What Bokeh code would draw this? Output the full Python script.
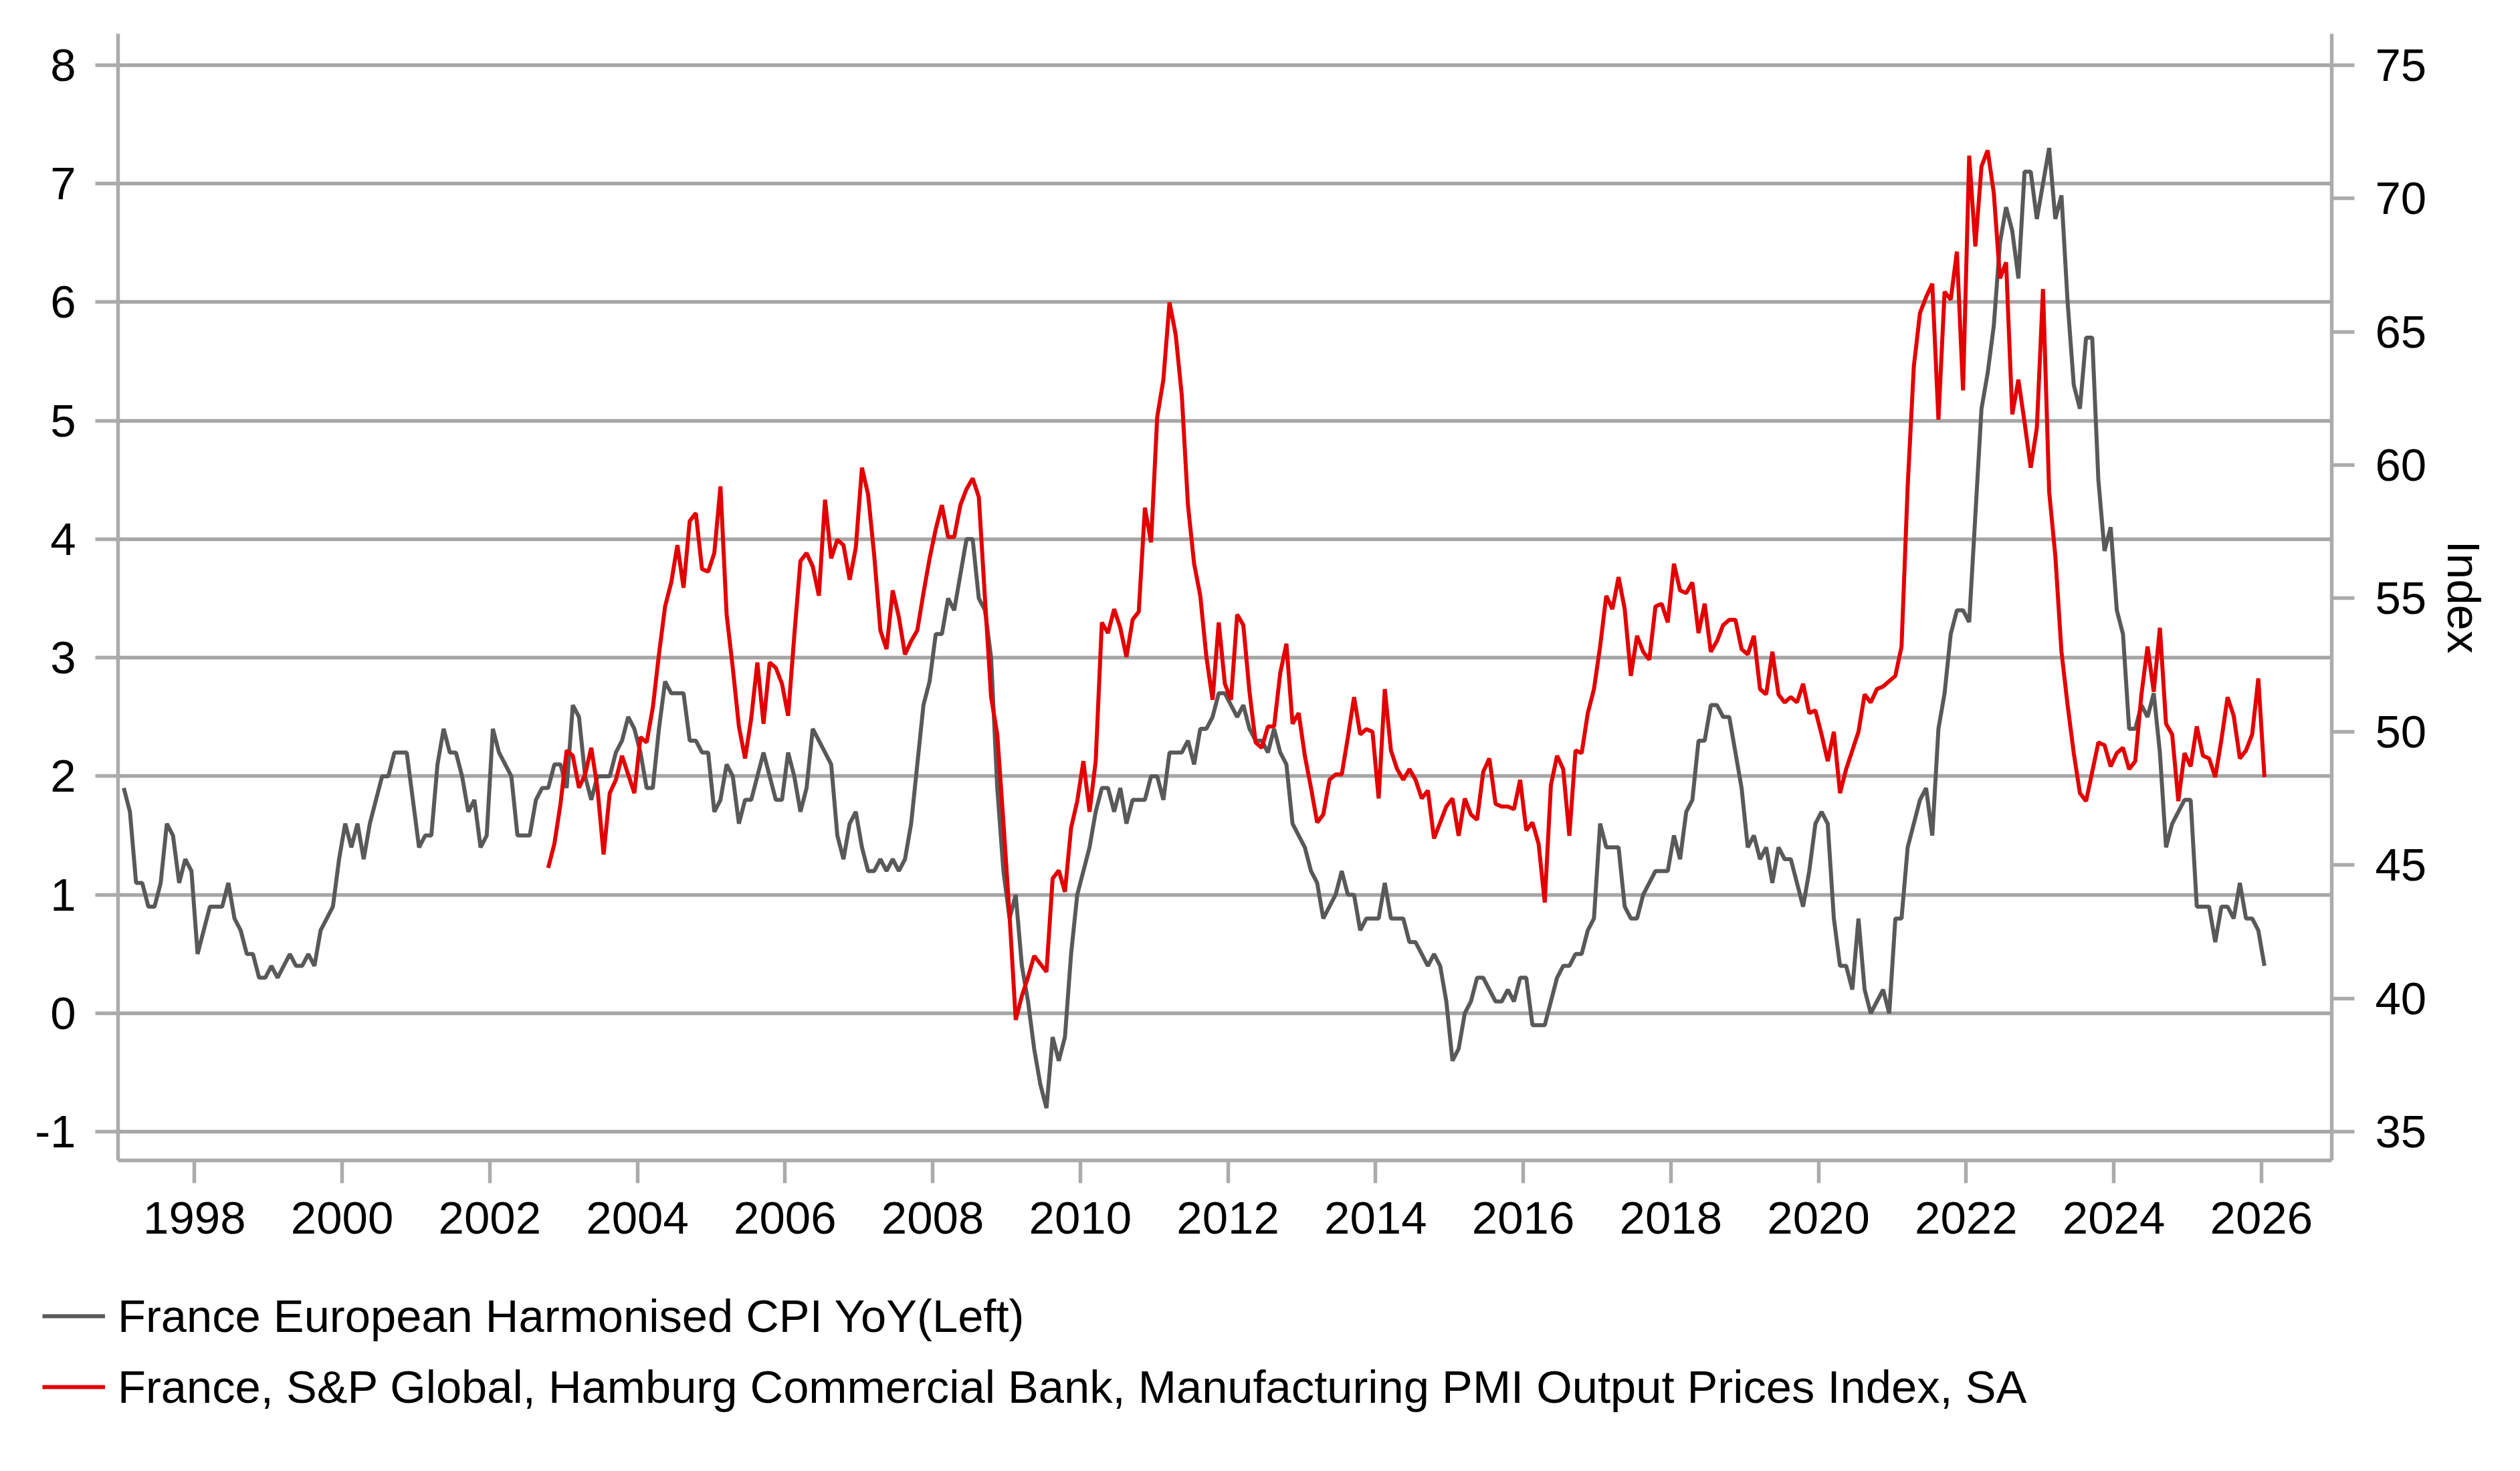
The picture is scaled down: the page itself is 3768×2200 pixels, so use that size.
from bokeh.plotting import figure
from bokeh.layouts import column
from bokeh.models import (Range1d, LinearAxis, FixedTicker, Legend, LegendItem,
                          NumeralTickFormatter, ColumnDataSource)
from bokeh.embed import file_html
from bokeh.resources import INLINE

# ---------------- data ----------------
# France European Harmonised CPI YoY (%), monthly, starting Jan 1997
cpi_start = (1997, 1)
cpi_yoy = [
    1.9, 1.7, 1.1, 1.1, 0.9, 0.9, 1.1, 1.6, 1.5, 1.1, 1.3, 1.2,      # 1997
    0.5, 0.7, 0.9, 0.9, 0.9, 1.1, 0.8, 0.7, 0.5, 0.5, 0.3, 0.3,      # 1998
    0.4, 0.3, 0.4, 0.5, 0.4, 0.4, 0.5, 0.4, 0.7, 0.8, 0.9, 1.3,      # 1999
    1.6, 1.4, 1.6, 1.3, 1.6, 1.8, 2.0, 2.0, 2.2, 2.2, 2.2, 1.8,      # 2000
    1.4, 1.5, 1.5, 2.1, 2.4, 2.2, 2.2, 2.0, 1.7, 1.8, 1.4, 1.5,      # 2001
    2.4, 2.2, 2.1, 2.0, 1.5, 1.5, 1.5, 1.8, 1.9, 1.9, 2.1, 2.1,      # 2002
    1.9, 2.6, 2.5, 2.0, 1.8, 2.0, 2.0, 2.0, 2.2, 2.3, 2.5, 2.4,      # 2003
    2.2, 1.9, 1.9, 2.4, 2.8, 2.7, 2.7, 2.7, 2.3, 2.3, 2.2, 2.2,      # 2004
    1.7, 1.8, 2.1, 2.0, 1.6, 1.8, 1.8, 2.0, 2.2, 2.0, 1.8, 1.8,      # 2005
    2.2, 2.0, 1.7, 1.9, 2.4, 2.3, 2.2, 2.1, 1.5, 1.3, 1.6, 1.7,      # 2006
    1.4, 1.2, 1.2, 1.3, 1.2, 1.3, 1.2, 1.3, 1.6, 2.1, 2.6, 2.8,      # 2007
    3.2, 3.2, 3.5, 3.4, 3.7, 4.0, 4.0, 3.5, 3.4, 3.0, 1.9, 1.2,      # 2008
    0.8, 1.0, 0.4, 0.1, -0.3, -0.6, -0.8, -0.2, -0.4, -0.2, 0.5, 1.0,  # 2009
    1.2, 1.4, 1.7, 1.9, 1.9, 1.7, 1.9, 1.6, 1.8, 1.8, 1.8, 2.0,      # 2010
    2.0, 1.8, 2.2, 2.2, 2.2, 2.3, 2.1, 2.4, 2.4, 2.5, 2.7, 2.7,      # 2011
    2.6, 2.5, 2.6, 2.4, 2.3, 2.3, 2.2, 2.4, 2.2, 2.1, 1.6, 1.5,      # 2012
    1.4, 1.2, 1.1, 0.8, 0.9, 1.0, 1.2, 1.0, 1.0, 0.7, 0.8, 0.8,      # 2013
    0.8, 1.1, 0.8, 0.8, 0.8, 0.6, 0.6, 0.5, 0.4, 0.5, 0.4, 0.1,      # 2014
    -0.4, -0.3, 0.0, 0.1, 0.3, 0.3, 0.2, 0.1, 0.1, 0.2, 0.1, 0.3,    # 2015
    0.3, -0.1, -0.1, -0.1, 0.1, 0.3, 0.4, 0.4, 0.5, 0.5, 0.7, 0.8,   # 2016
    1.6, 1.4, 1.4, 1.4, 0.9, 0.8, 0.8, 1.0, 1.1, 1.2, 1.2, 1.2,      # 2017
    1.5, 1.3, 1.7, 1.8, 2.3, 2.3, 2.6, 2.6, 2.5, 2.5, 2.2, 1.9,      # 2018
    1.4, 1.5, 1.3, 1.4, 1.1, 1.4, 1.3, 1.3, 1.1, 0.9, 1.2, 1.6,      # 2019
    1.7, 1.6, 0.8, 0.4, 0.4, 0.2, 0.8, 0.2, 0.0, 0.1, 0.2, 0.0,      # 2020
    0.8, 0.8, 1.4, 1.6, 1.8, 1.9, 1.5, 2.4, 2.7, 3.2, 3.4, 3.4,      # 2021
    3.3, 4.2, 5.1, 5.4, 5.8, 6.5, 6.8, 6.6, 6.2, 7.1, 7.1, 6.7,      # 2022
    7.0, 7.3, 6.7, 6.9, 6.0, 5.3, 5.1, 5.7, 5.7, 4.5, 3.9, 4.1,      # 2023
    3.4, 3.2, 2.4, 2.4, 2.6, 2.5, 2.7, 2.2, 1.4, 1.6, 1.7, 1.8,      # 2024
    1.8, 0.9, 0.9, 0.9, 0.6, 0.9, 0.9, 0.8, 1.1, 0.8, 0.8, 0.7,      # 2025
    0.4,                                                             # 2026
]

# France manufacturing PMI output prices index (SA), monthly, starting Oct 2002
pmi_start = (2002, 10)
pmi_output_prices = [
    44.9, 45.8, 47.3,                                                        # 2002
    49.3, 49.1, 47.9, 48.4, 49.4, 47.9, 45.4, 47.7, 48.2, 49.1, 48.4, 47.7,  # 2003
    49.8, 49.6, 50.9, 52.9, 54.7, 55.6, 57.0, 55.4, 57.9, 58.2, 56.1, 56.0,  # 2004
    56.7, 59.2, 54.4, 52.4, 50.2, 49.0, 50.5, 52.6, 50.3, 52.6, 52.4, 51.8,  # 2005
    50.6, 53.6, 56.4, 56.7, 56.2, 55.1, 58.7, 56.5, 57.2, 57.0, 55.7, 56.9,  # 2006
    59.9, 58.9, 56.6, 53.8, 53.1, 55.3, 54.3, 52.9, 53.4, 53.8, 55.2, 56.5,  # 2007
    57.6, 58.5, 57.3, 57.3, 58.5, 59.1, 59.5, 58.8, 55.0, 51.3, 49.9, 46.6,  # 2008
    43.1, 39.2, 40.1, 40.8, 41.6, 41.3, 41.0, 44.5, 44.8, 44.0, 46.4, 47.4,  # 2009
    48.9, 47.0, 48.9, 54.1, 53.7, 54.6, 53.9, 52.8, 54.2, 54.5, 58.4, 57.1,  # 2010
    61.8, 63.2, 66.1, 64.9, 62.6, 58.5, 56.3, 55.1, 52.8, 51.2, 54.1, 51.8,  # 2011
    51.2, 54.4, 54.0, 51.5, 49.6, 49.4, 50.2, 50.2, 52.2, 53.3, 50.3, 50.7,  # 2012
    49.1, 47.9, 46.6, 46.9, 48.2, 48.4, 48.4, 49.8, 51.3, 49.9, 50.1, 50.0,  # 2013
    47.5, 51.6, 49.3, 48.6, 48.2, 48.6, 48.2, 47.5, 47.8, 46.0, 46.6, 47.2,  # 2014
    47.5, 46.1, 47.5, 46.9, 46.7, 48.5, 49.0, 47.3, 47.2, 47.2, 47.1, 48.2,  # 2015
    46.3, 46.6, 45.8, 43.6, 48.0, 49.1, 48.6, 46.1, 49.3, 49.2, 50.7, 51.6,  # 2016
    53.2, 55.1, 54.6, 55.8, 54.6, 52.1, 53.6, 53.0, 52.7, 54.7, 54.8, 54.1,  # 2017
    56.3, 55.3, 55.2, 55.6, 53.7, 54.8, 53.0, 53.4, 54.0, 54.2, 54.2, 53.1,  # 2018
    52.9, 53.6, 51.6, 51.4, 53.0, 51.4, 51.1, 51.3, 51.1, 51.8, 50.7, 50.8,  # 2019
    49.9, 48.9, 50.0, 47.7, 48.6, 49.3, 50.0, 51.4, 51.1, 51.6, 51.7, 51.9,  # 2020
    52.1, 53.2, 59.2, 63.7, 65.7, 66.3, 66.8, 61.7, 66.5, 66.2, 68.0, 62.8,  # 2021
    71.6, 68.2, 71.2, 71.8, 70.2, 67.0, 67.6, 61.9, 63.2, 61.6, 59.9, 61.4,  # 2022
    66.6, 59.0, 56.6, 53.0, 51.0, 49.2, 47.7, 47.4, 48.5, 49.6, 49.5, 48.7,  # 2023
    49.2, 49.4, 48.6, 48.9, 51.4, 53.2, 51.5, 53.9, 50.3, 49.9, 47.4, 49.2,  # 2024
    48.7, 50.2, 49.1, 49.0, 48.3, 49.7, 51.3, 50.6, 49.0, 49.3, 49.9, 52.0,  # 2025
    48.3,                                                                    # 2026
]

year_ticks = list(range(1998, 2027, 2))
left_ticks = list(range(-1, 9))
right_ticks = list(range(35, 76, 5))

cpi_label = "France European Harmonised CPI YoY(Left)"
pmi_label = "France, S&P Global, Hamburg Commercial Bank, Manufacturing PMI Output Prices Index, SA"


def month_positions(start, n):
    """Decimal-year position of the middle of each month."""
    y0, m0 = start
    return [y0 + (m0 - 1 + i + 0.5) / 12.0 for i in range(n)]


cpi_src = ColumnDataSource(dict(x=month_positions(cpi_start, len(cpi_yoy)), y=cpi_yoy))
pmi_src = ColumnDataSource(dict(x=month_positions(pmi_start, len(pmi_output_prices)),
                                y=pmi_output_prices))

# ---------------- styling ----------------
FONT = "Liberation Sans"
FS = "69px"
AXIS_COLOR = "#ababab"
GRID_COLOR = "#a6a6a6"
GRAY = "#595959"
RED = "#e40000"
GRAY_W = 6
RED_W = 6

W = 3752
H_MAIN = 1900
H_LEG = 284

p = figure(width=W, height=H_MAIN, output_backend="svg", toolbar_location=None,
           x_range=Range1d(1996.964, 2026.953), y_range=Range1d(-1.241, 8.263),
           min_border_left=176, min_border_right=266, min_border_top=50,
           min_border_bottom=H_MAIN - 50 - 1685, background_fill_color="white",
           border_fill_color="white", outline_line_color=None)
p.extra_y_ranges = {"pmi": Range1d(33.93, 76.17)}

right_axis = LinearAxis(y_range_name="pmi")
p.add_layout(right_axis, "right")


def style_axis(ax, standoff):
    ax.axis_line_color = AXIS_COLOR
    ax.axis_line_width = 5.5
    ax.major_tick_line_color = AXIS_COLOR
    ax.major_tick_line_width = 5.5
    ax.major_tick_out = 34
    ax.major_tick_in = 0
    ax.minor_tick_line_color = None
    ax.major_label_text_font = FONT
    ax.major_label_text_font_size = FS
    ax.major_label_text_color = "black"
    ax.major_label_standoff = standoff


xax = p.xaxis[0]
yax = p.yaxis[0]
style_axis(xax, 28)
style_axis(yax, 29)
style_axis(right_axis, 31)

xax.ticker = FixedTicker(ticks=year_ticks)
xax.formatter = NumeralTickFormatter(format="0")
yax.ticker = FixedTicker(ticks=left_ticks)
yax.major_label_overrides = {-1: "-1"}
right_axis.ticker = FixedTicker(ticks=right_ticks)

right_axis.axis_label = "Index"
right_axis.axis_label_text_font = FONT
right_axis.axis_label_text_font_size = FS
right_axis.axis_label_text_font_style = "normal"
right_axis.axis_label_text_color = "black"
right_axis.axis_label_standoff = 14

p.xgrid.visible = False
p.ygrid.ticker = FixedTicker(ticks=left_ticks)
p.ygrid.grid_line_color = GRID_COLOR
p.ygrid.grid_line_width = 5.5

p.line("x", "y", source=cpi_src, line_color=GRAY, line_width=GRAY_W)
p.line("x", "y", source=pmi_src, line_color=RED, line_width=RED_W, y_range_name="pmi")

# ---------------- legend strip below the chart ----------------
# Same series drawn again in a strip whose ranges keep the lines out of view,
# so the legend (inside this strip's frame) is not clipped.
leg = figure(width=W, height=H_LEG, output_backend="svg", toolbar_location=None,
             x_range=Range1d(0, 1), y_range=Range1d(1000, 1001),
             x_axis_type=None, y_axis_type=None,
             min_border_left=0, min_border_right=0, min_border_top=0, min_border_bottom=0,
             background_fill_color="white", border_fill_color="white",
             outline_line_color=None)
try:
    leg.frame_align = False
    p.frame_align = False
except Exception:
    pass
leg.xgrid.visible = False
leg.ygrid.visible = False
l_cpi = leg.line("x", "y", source=cpi_src, line_color=GRAY, line_width=GRAY_W)
l_pmi = leg.line("x", "y", source=pmi_src, line_color=RED, line_width=RED_W)

legend = Legend(
    items=[LegendItem(label=cpi_label, renderers=[l_cpi]),
           LegendItem(label=pmi_label, renderers=[l_pmi])],
    location=(63, 70), orientation="vertical",
    label_text_font=FONT, label_text_font_size="68.7px", label_text_color="black",
    label_text_baseline="middle",
    glyph_width=94, glyph_height=80, label_height=80, label_standoff=19,
    spacing=26, padding=0, margin=0,
    border_line_color=None, background_fill_alpha=0,
)
leg.add_layout(legend)

layout = column(p, leg, spacing=0)
open("out.html", "w").write(file_html(layout, INLINE))
